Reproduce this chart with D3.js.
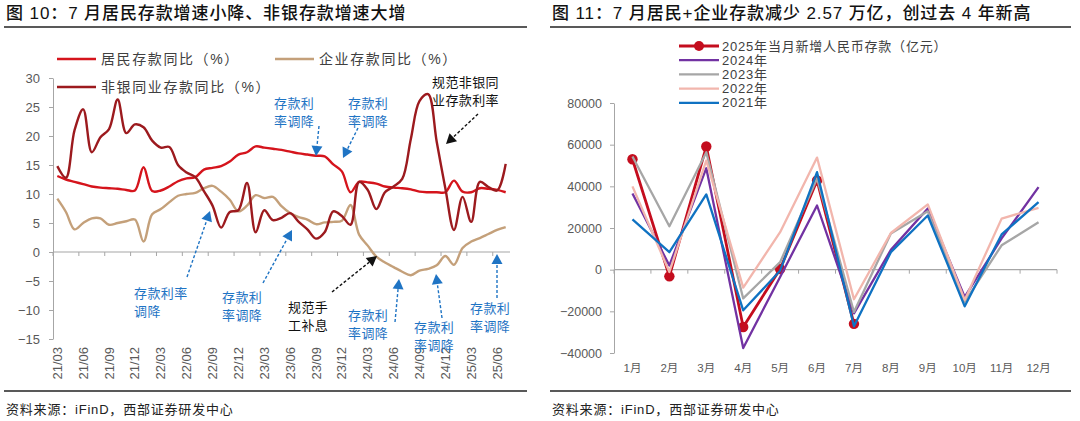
<!DOCTYPE html>
<html>
<head>
<meta charset="utf-8">
<script src="https://cdn.jsdelivr.net/npm/d3@7"></script>
<style>
  body { margin: 0; background: #fff; }
  svg { display: block; font-family: "Liberation Sans", "Noto Sans CJK SC", sans-serif; }
</style>
</head>
<body>
<svg id="chart" width="1080" height="421"></svg>
<script>
// ---- left panel data: deposit yoy (%) ----
const leftMonths = [
  "21/03","21/04","21/05","21/06","21/07","21/08","21/09","21/10","21/11","21/12",
  "22/01","22/02","22/03","22/04","22/05","22/06","22/07","22/08","22/09","22/10","22/11","22/12",
  "23/01","23/02","23/03","23/04","23/05","23/06","23/07","23/08","23/09","23/10","23/11","23/12",
  "24/01","24/02","24/03","24/04","24/05","24/06","24/07","24/08","24/09","24/10","24/11","24/12",
  "25/01","25/02","25/03","25/04","25/05","25/06","25/07"
];
const householdYoY = [
  13.1, 12.5, 12.1, 11.7, 11.3, 11.1, 11.0, 10.9, 10.7, 10.6,
  14.6, 10.5, 10.6, 11.3, 12.2, 12.7, 12.9, 14.2, 14.5, 14.8, 15.6, 16.8,
  17.2, 18.2, 18.0, 17.8, 17.6, 17.3, 17.0, 16.8, 16.6, 16.5, 15.1, 13.9,
  10.3, 12.1, 12.0, 11.8, 11.3, 11.1, 11.0, 10.8, 10.4, 10.3, 10.3, 10.3,
  12.3, 10.4, 10.3, 11.0, 10.9, 10.7, 10.3
];
const enterpriseYoY = [
  9.2, 6.9, 3.9, 5.0, 5.8, 5.8, 4.7, 5.0, 5.3, 5.6,
  1.8, 6.5, 7.4, 8.6, 9.7, 10.0, 10.2, 11.0, 11.4, 10.4, 9.0, 7.0,
  8.0, 9.8, 9.3, 9.5, 7.9, 6.7, 6.0, 5.6, 4.8, 5.1, 5.2, 5.4,
  8.1, 3.0, 1.1, -0.8, -1.8, -2.6, -3.4, -4.0, -3.2, -2.9, -2.3, -0.7,
  -2.2, 0.7, 1.8, 2.4, 3.1, 3.8, 4.3
];
const nonbankYoY = [
  14.8, 12.8, 21.0, 24.6, 17.2, 19.8, 21.2, 26.3, 20.5, 22.0,
  21.5, 19.2, 18.0, 18.1, 15.0, 13.7, 12.9, 10.5, 8.0, 4.2, 6.9, 7.2,
  11.9, 3.4, 7.2, 5.5, 5.9, 6.7, 5.2, 3.9, 2.3, 3.4, 7.0, 6.2,
  4.7, 12.1, 10.7, 7.4, 10.3, 11.3, 12.6, 19.5, 26.0, 27.2, 19.0, 11.0,
  3.8, 9.5, 5.2, 12.1, 11.2, 10.6, 15.2
];
const leftTicks = [-15, -10, -5, 0, 5, 10, 15, 20, 25, 30];

// ---- right panel data: monthly new RMB deposits (100 mn yuan) ----
const rightMonths = ["1月","2月","3月","4月","5月","6月","7月","8月","9月","10月","11月","12月"];
const dep2025 = [53000, -3200, 59100, -27500, 300, 42800, -26000];
const dep2024 = [36600, 2000, 48700, -37600, -3500, 30800, -21000, 9500, 29400, -13100, 15000, 39600];
const dep2023 = [54300, 20800, 56400, -13800, 3600, 43800, -20300, 17400, 28000, -15500, 11700, 22800];
const dep2022 = [40000, -1100, 52400, -8600, 18000, 53800, -14200, 17600, 31300, -14500, 24500, 29700];
const dep2021 = [24100, 8400, 36100, -19500, -500, 46800, -27200, 8400, 26000, -17600, 16900, 32400];
const rightTicks = [-40000, -20000, 0, 20000, 40000, 60000, 80000];

const svg = d3.select("#chart");
const axisGrey = "#a6a6a6";
const labelGrey = "#595959";
const legendGrey = "#404040";
const noteBlue = "#1f74c4";

// ---- frames: titles, rules, source lines ----
function frame(x0, x1, title) {
  svg.append("text").attr("x", x0 + 2).attr("y", 19)
    .attr("font-size", 17).attr("font-weight", 500).attr("fill", "#111")
    .attr("letter-spacing", 0.9)
    .text(title);
  svg.append("line").attr("x1", x0).attr("x2", x1).attr("y1", 27).attr("y2", 27)
    .attr("stroke", "#222").attr("stroke-width", 1.3);
  svg.append("line").attr("x1", x0).attr("x2", x1).attr("y1", 391).attr("y2", 391)
    .attr("stroke", "#222").attr("stroke-width", 1.3);
  svg.append("text").attr("x", x0 + 2).attr("y", 414)
    .attr("font-size", 13).attr("fill", "#222").attr("letter-spacing", 0.8)
    .text("资料来源：iFinD，西部证券研发中心");
}
frame(4, 527, "图 10：7 月居民存款增速小降、非银存款增速大增");
frame(550, 1071, "图 11：7 月居民+企业存款减少 2.57 万亿，创过去 4 年新高");

// ================= left chart =================
const xL = d3.scaleBand().domain(leftMonths).range([53, 510]);
const cxL = m => xL(m) + xL.bandwidth() / 2;
const yL = d3.scaleLinear().domain([-15, 30]).range([339, 78]);

const yAxisL = svg.append("g").attr("transform", "translate(53,0)")
  .call(d3.axisLeft(yL).tickValues(leftTicks).tickSize(4).tickSizeOuter(0).tickPadding(9));
yAxisL.select(".domain").attr("stroke", axisGrey);
yAxisL.selectAll(".tick line").attr("stroke", axisGrey);
yAxisL.selectAll(".tick text").attr("fill", labelGrey).attr("font-size", 13)
  .attr("font-family", "Liberation Sans");

// zero line with month ticks
svg.append("line").attr("x1", 53).attr("x2", 510).attr("y1", yL(0)).attr("y2", yL(0))
  .attr("stroke", axisGrey).attr("stroke-width", 1.2);
svg.append("g").selectAll("line")
  .data(leftMonths.filter((d, i) => i % 3 === 0))
  .join("line")
  .attr("x1", d => xL(d)).attr("x2", d => xL(d))
  .attr("y1", yL(0)).attr("y2", yL(0) + 4)
  .attr("stroke", axisGrey);

svg.append("g").selectAll("text")
  .data(leftMonths.filter((d, i) => i % 3 === 0))
  .join("text")
  .attr("transform", d => `translate(${cxL(d)},347) rotate(-90)`)
  .attr("text-anchor", "end").attr("dy", "0.35em")
  .attr("font-size", 13).attr("fill", labelGrey)
  .text(d => d);

const lineL = d3.line().curve(d3.curveCatmullRom.alpha(0.5))
  .x((d, i) => cxL(leftMonths[i])).y(d => yL(d));

const leftSeries = [
  { name: "居民存款同比（%）", values: householdYoY, color: "#d5141c" },
  { name: "企业存款同比（%）", values: enterpriseYoY, color: "#c4a07a" },
  { name: "非银同业存款同比（%）", values: nonbankYoY, color: "#9c1a1e" }
];
leftSeries.forEach(s => {
  svg.append("path").datum(s.values).attr("d", lineL)
    .attr("fill", "none").attr("stroke", s.color).attr("stroke-width", 2.4)
    .attr("stroke-linejoin", "round");
});

// legend
const legL = [
  { s: leftSeries[0], x: 57, y: 59 },
  { s: leftSeries[1], x: 275, y: 59 },
  { s: leftSeries[2], x: 57, y: 87 }
];
legL.forEach(d => {
  svg.append("line").attr("x1", d.x).attr("x2", d.x + 39).attr("y1", d.y).attr("y2", d.y)
    .attr("stroke", d.s.color).attr("stroke-width", 2.6);
  svg.append("text").attr("x", d.x + 44).attr("y", d.y).attr("dy", "0.35em")
    .attr("font-size", 14).attr("fill", legendGrey).attr("letter-spacing", 1.6)
    .text(d.s.name);
});

// ---- annotations ----
const notes = [
  { lines: ["存款利", "率调降"], x: 274, y: 103, color: noteBlue, from: [319, 126], to: [316, 156] },
  { lines: ["存款利", "率调降"], x: 348, y: 103, color: noteBlue, from: [358, 128], to: [343, 158] },
  { lines: ["规范非银同", "业存款利率"], x: 432, y: 82, color: "#111", from: [478, 114], to: [446, 144] },
  { lines: ["存款利率", "调降"], x: 134, y: 293, color: noteBlue, from: [187, 277], to: [210, 211] },
  { lines: ["存款利", "率调降"], x: 222, y: 297, color: noteBlue, from: [263, 283], to: [292, 230] },
  { lines: ["规范手", "工补息"], x: 288, y: 307, color: "#111", from: [332, 292], to: [377, 256] },
  { lines: ["存款利", "率调降"], x: 348, y: 315, color: noteBlue, from: [395, 322], to: [399, 279] },
  { lines: ["存款利", "率调降"], x: 414, y: 327, color: noteBlue, from: [442, 318], to: [436, 274] },
  { lines: ["存款利", "率调降"], x: 470, y: 308, color: noteBlue, from: [497, 298], to: [497, 254] }
];
notes.forEach(n => {
  const g = svg.append("g");
  n.lines.forEach((t, k) => {
    g.append("text").attr("x", n.x).attr("y", n.y + k * 18.5).attr("dy", "0.35em")
      .attr("font-size", 13).attr("letter-spacing", 0.4).attr("fill", n.color).text(t);
  });
  const [x0, y0] = n.from, [x1, y1] = n.to;
  const len = Math.hypot(x1 - x0, y1 - y0);
  const ux = (x1 - x0) / len, uy = (y1 - y0) / len;
  const hl = 10, hw = 5.5;
  const bx = x1 - ux * hl, by = y1 - uy * hl;
  g.append("line").attr("x1", x0).attr("y1", y0).attr("x2", bx).attr("y2", by)
    .attr("stroke", n.color).attr("stroke-width", 1.4).attr("stroke-dasharray", "3,2");
  g.append("path")
    .attr("d", `M${x1},${y1}L${bx - uy * hw},${by + ux * hw}L${bx + uy * hw},${by - ux * hw}Z`)
    .attr("fill", n.color);
});

// ================= right chart =================
const xR = d3.scaleBand().domain(rightMonths).range([614, 1057]);
const cxR = m => xR(m) + xR.bandwidth() / 2;
const yR = d3.scaleLinear().domain([-40000, 80000]).range([353, 103]);

const yAxisR = svg.append("g").attr("transform", "translate(614,0)")
  .call(d3.axisLeft(yR).tickValues(rightTicks).tickSize(4).tickSizeOuter(0).tickPadding(8).tickFormat(d3.format("d")));
yAxisR.select(".domain").attr("stroke", axisGrey);
yAxisR.selectAll(".tick line").attr("stroke", axisGrey);
yAxisR.selectAll(".tick text").attr("fill", labelGrey).attr("font-size", 12.5);

svg.append("line").attr("x1", 614).attr("x2", 1057).attr("y1", yR(0)).attr("y2", yR(0))
  .attr("stroke", axisGrey).attr("stroke-width", 1.2);
svg.append("g").selectAll("line")
  .data(rightMonths.concat(["end"]))
  .join("line")
  .attr("x1", d => d === "end" ? 1057 : xR(d)).attr("x2", d => d === "end" ? 1057 : xR(d))
  .attr("y1", yR(0)).attr("y2", yR(0) + 4)
  .attr("stroke", axisGrey);

svg.append("g").selectAll("text")
  .data(rightMonths)
  .join("text")
  .attr("x", d => cxR(d)).attr("y", 368).attr("dy", "0.35em")
  .attr("text-anchor", "middle").attr("font-size", 11.5).attr("fill", labelGrey)
  .text(d => d);

const rightSeries = [
  { name: "2025年当月新增人民币存款（亿元）", values: dep2025, color: "#c40d1e", width: 2.8, marker: true },
  { name: "2024年", values: dep2024, color: "#7232a2", width: 2.3 },
  { name: "2023年", values: dep2023, color: "#a6a6a6", width: 2.3 },
  { name: "2022年", values: dep2022, color: "#f2b6ad", width: 2.3 },
  { name: "2021年", values: dep2021, color: "#0f72c2", width: 2.3 }
];
const lineR = d3.line().x((d, i) => cxR(rightMonths[i])).y(d => yR(d));

rightSeries.forEach(s => {
  svg.append("path").datum(s.values).attr("d", lineR)
    .attr("fill", "none").attr("stroke", s.color).attr("stroke-width", s.width)
    .attr("stroke-linejoin", "round");
  if (s.marker) {
    svg.append("g").selectAll("circle").data(s.values).join("circle")
      .attr("cx", (d, i) => cxR(rightMonths[i])).attr("cy", d => yR(d))
      .attr("r", 5.2).attr("fill", s.color);
  }
});

// legend
rightSeries.forEach((s, k) => {
  const y = 46 + k * 14.2;
  svg.append("line").attr("x1", 679).attr("x2", 719).attr("y1", y).attr("y2", y)
    .attr("stroke", s.color).attr("stroke-width", s.width);
  if (s.marker) {
    svg.append("circle").attr("cx", 699).attr("cy", y).attr("r", 5).attr("fill", s.color);
  }
  svg.append("text").attr("x", 722).attr("y", y).attr("dy", "0.35em")
    .attr("font-size", 13).attr("fill", legendGrey).attr("letter-spacing", 0.8).text(s.name);
});
</script>
</body>
</html>
